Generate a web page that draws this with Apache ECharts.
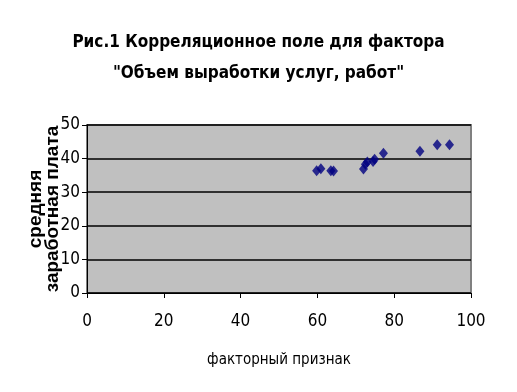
<!DOCTYPE html>
<html><head><meta charset="utf-8">
<script src="https://cdn.jsdelivr.net/npm/echarts@6/dist/echarts.min.js"></script>
<style>html,body{margin:0;padding:0;background:#fff}#c{width:517px;height:392px}</style>
</head><body><div id="c"></div>
<script>
const titleLines = ['Рис.1 Корреляционное поле для фактора', '"Объем выработки услуг, работ"'];
const xName = 'факторный признак';
const yName = 'средняя\nзаработная плата';
const xValues = [59.8, 60.9, 63.5, 64.2, 72.0, 72.5, 73.0, 74.5, 74.9, 77.2, 86.7, 91.2, 94.4];
const yValues = [36.4, 37.0, 36.4, 36.3, 36.9, 38.3, 39.0, 39.1, 39.8, 41.6, 42.2, 44.1, 44.1];
const xTicks = {min: 0, max: 100, interval: 20};
const yTicks = {min: 0, max: 50, interval: 10};

const cond = "'DejaVu Sans Condensed', 'Liberation Sans Narrow', 'Liberation Sans', Arial, sans-serif";
const sans = "'Liberation Sans', Arial, sans-serif";
const chart = echarts.init(document.getElementById('c'));
chart.setOption({
  backgroundColor: '#fff',
  animation: false,
  title: {
    text: titleLines.join('\n'),
    left: 'center', top: 22,
    textStyle: {fontFamily: cond, fontWeight: 'bold', fontSize: 17, lineHeight: 31, color: '#000'}
  },
  grid: {left: 87, top: 125, width: 384, height: 168, show: true,
         backgroundColor: '#C0C0C0', borderColor: '#808080', borderWidth: 2},
  xAxis: {
    type: 'value', min: xTicks.min, max: xTicks.max, interval: xTicks.interval,
    name: xName, nameLocation: 'middle', nameGap: 60, nameMoveOverlap: false,
    nameTextStyle: {fontFamily: cond, fontSize: 15, color: '#000'},
    axisLine: {show: true, lineStyle: {color: '#000', width: 1}},
    axisTick: {show: true, length: 5, lineStyle: {color: '#000'}},
    axisLabel: {fontFamily: cond, fontSize: 17, color: '#000', margin: 20},
    splitLine: {show: false}
  },
  yAxis: {
    type: 'value', min: yTicks.min, max: yTicks.max, interval: yTicks.interval,
    name: yName, nameLocation: 'middle', nameGap: 26, nameRotate: 90, nameMoveOverlap: false,
    nameTextStyle: {fontFamily: sans, fontWeight: 'bold', fontSize: 19, lineHeight: 17, color: '#000'},
    axisLine: {show: true, lineStyle: {color: '#000', width: 1}},
    axisTick: {show: true, length: 5, lineStyle: {color: '#000'}},
    axisLabel: {fontFamily: cond, fontSize: 17, color: '#000', margin: 7},
    splitLine: {show: true, lineStyle: {color: '#000', width: 1.5}}
  },
  series: [{
    type: 'scatter',
    data: xValues.map((x, i) => [x, yValues[i]]),
    symbol: 'diamond', symbolSize: [9, 11],
    itemStyle: {color: '#000080'}
  }]
});
</script></body></html>
